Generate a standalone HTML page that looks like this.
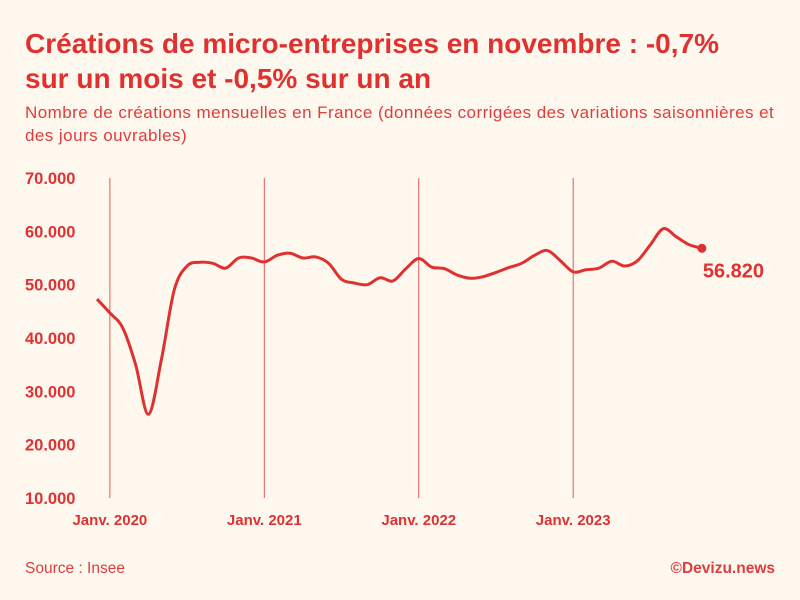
<!DOCTYPE html>
<html><head><meta charset="utf-8"><style>
body{margin:0;width:800px;height:600px;background:#fff8ef;font-family:"Liberation Sans",sans-serif;overflow:hidden;position:relative}
.t{position:absolute;left:25px;top:26px;color:#e03131;font-weight:bold;font-size:28px;line-height:35px;width:720px}
.s{position:absolute;left:25px;top:101px;color:#e03c3c;font-size:17px;letter-spacing:0.45px;line-height:23px;width:752px}
.f{position:absolute;top:560px;font-size:15.5px;color:#e03c3c}
</style></head><body>
<div class="t">Créations de micro-entreprises en novembre : -0,7% sur un mois et -0,5% sur un an</div>
<div class="s">Nombre de créations mensuelles en France (données corrigées des variations saisonnières et des jours ouvrables)</div>
<svg width="800" height="600" style="position:absolute;left:0;top:0">
<g id="ax"></g><path id="ln" fill="none" stroke="#e03131" stroke-width="3"/><g id="pt"></g>
</svg>
<div class="f" style="left:25px">Source : Insee</div>
<div class="f" style="right:25px;font-weight:bold">©Devizu.news</div>
<script>
const values=[47300,44700,41900,35000,25700,35900,49000,53500,54200,54000,53100,55000,55000,54250,55500,55900,55000,55200,54000,51000,50300,50000,51300,50700,53000,54900,53300,53000,51800,51200,51500,52300,53200,54000,55500,56400,54500,52400,52800,53100,54400,53500,54500,57500,60500,59000,57500,56820];
const yTicks=[10000,20000,30000,40000,50000,60000,70000];
const yearLabels=["Janv. 2020","Janv. 2021","Janv. 2022","Janv. 2023"];
const lastLabel="56.820";
const X=i=>97+i*12.87, Y=v=>498-(v-10000)/60000*320;
const ns="http://www.w3.org/2000/svg",ax=document.getElementById('ax');
function mk(t,a,p){const e=document.createElementNS(ns,t);for(const k in a)e.setAttribute(k,a[k]);(p||ax).appendChild(e);return e;}
yTicks.forEach(v=>{const e=mk('text',{x:25,y:Y(v)+6,fill:'#e03131','font-size':16.5,'font-weight':'bold'});e.textContent=v.toLocaleString('de-DE');

});
yearLabels.forEach((l,k)=>{const x=X(1+12*k);const g=mk('line',{x1:x,x2:x,y1:178,y2:498,stroke:'#e03131','stroke-width':1,opacity:0.8});


const e=mk('text',{x:x,y:525,fill:'#e03131','font-size':15,'font-weight':'bold','text-anchor':'middle'});e.textContent=l;

});
const P=values.map((v,i)=>[X(i),Y(v)]);
let d=`M${P[0][0]},${P[0][1]}`;
for(let i=0;i<P.length-1;i++){const p0=P[i-1]||P[i],p1=P[i],p2=P[i+1],p3=P[i+2]||p2;
d+=` C${p1[0]+(p2[0]-p0[0])/6},${p1[1]+(p2[1]-p0[1])/6} ${p2[0]-(p3[0]-p1[0])/6},${p2[1]-(p3[1]-p1[1])/6} ${p2[0]},${p2[1]}`;}
document.getElementById('ln').setAttribute('d',d);
const pg=document.getElementById('pt'),L=P[P.length-1];
const c=mk('circle',{cx:L[0],cy:L[1],r:4.5,fill:'#e03131'},pg);


const t=mk('text',{x:L[0]+1,y:L[1]+29,fill:'#e03131','font-size':20,'font-weight':'bold'},pg);t.textContent=lastLabel;


</script>
</body></html>
